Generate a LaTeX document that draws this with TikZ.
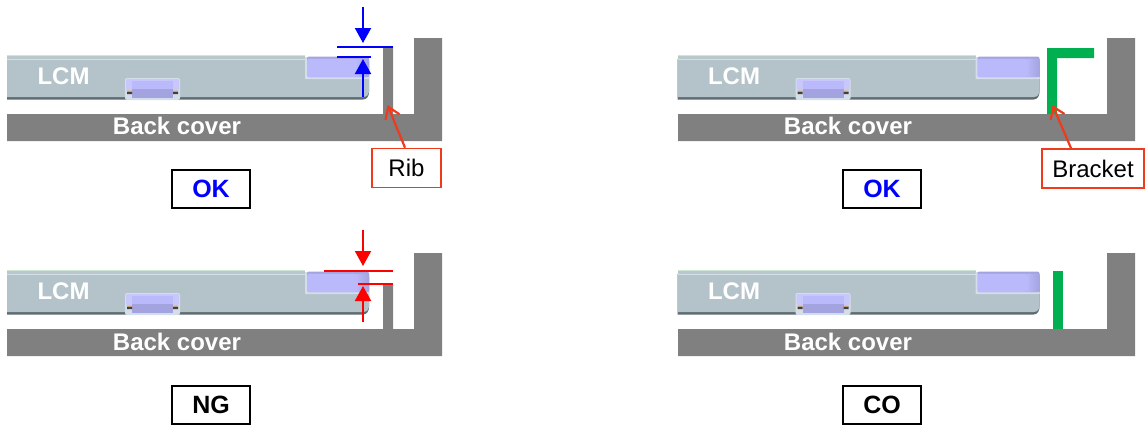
\documentclass[tikz,border=0pt]{standalone}
\usepackage{fontspec}
\setmainfont{Liberation Sans}
\usetikzlibrary{arrows.meta}
\definecolor{coverGray}{HTML}{808080}
\definecolor{lcmBody}{HTML}{B4C3CA}
\definecolor{lcmEdge}{HTML}{5F6B70}
\definecolor{lcmPatch}{HTML}{B9B9FB}
\definecolor{lcmPatchDark}{HTML}{A3A3DF}
\definecolor{lcmRim}{HTML}{D3DEEA}
\definecolor{lcmTop}{HTML}{B9C8C8}
\definecolor{lcmGlow}{HTML}{CFE6D4}
\definecolor{ribGreen}{HTML}{00B050}
\definecolor{calloutRed}{HTML}{F03A1C}
\definecolor{dimBlue}{HTML}{0000FF}
\definecolor{dimRed}{HTML}{FF0000}
\tikzset{
  coverlabel/.style={text=white,font=\bfseries\fontsize{24}{24}\selectfont,inner sep=0pt},
  verdict/.style={draw=black,line width=1.3pt,fill=white,minimum width=78pt,minimum height=38pt,inner sep=0pt,font=\bfseries\fontsize{25}{25}\selectfont},
  callout/.style={draw=calloutRed,line width=1.6pt,fill=white,minimum height=39pt,inner sep=0pt,font=\fontsize{24}{24}\selectfont},
  calloutarrow/.style={draw=calloutRed,line width=2.2pt,-{Straight Barb[length=11pt,width=15pt,line width=2.2pt]}},
  dimline/.style={line width=2pt},
  dimarrow/.style={line width=2pt,-{Triangle[length=15pt,width=16pt]}},
  lcm/.pic={
    \fill[lcmEdge] (0,59) -- (359,59) .. controls (361,59) and (362,60) .. (362,62) -- (362,92) .. controls (362,96) and (360,99.5) .. (356,99.5) -- (0,99.5) -- cycle;
    \fill[lcmBody] (0,59) -- (359,59) .. controls (361,59) and (362,60) .. (362,62) -- (362,92) .. controls (362,94) and (360,97) .. (356,97) -- (0,97) -- cycle;
    \fill[lcmGlow] (0,55) rectangle (298,56.5);
    \fill[lcmTop] (0,56) rectangle (298,59);
    \fill[lcmRim] (0,58.5) rectangle (298,60);
    \fill[lcmRim] (298,57) rectangle (301,79) (298,77) rectangle (362,79);
    \fill[lcmPatchDark,rounded corners=2pt] (300,56.5) rectangle (362,77);
    \shade[left color=lcmPatch,right color=lcmPatch,middle color=lcmPatch,rounded corners=1pt] (300.5,58.5) rectangle (349,77);
    \shade[left color=lcmPatch,right color=lcmPatchDark,rounded corners=1pt] (349,58.5) rectangle (362,77);
    \fill[lcmRim,rounded corners=2pt] (118,78) rectangle (173,100);
    \fill[lcmPatch!80!white,rounded corners=1pt] (119,79) rectangle (172,90);
    \fill[lcmPatch] (125,81) rectangle (166,89);
    \fill[lcmPatchDark] (125,89) rectangle (166,98);
    \fill[black!75] (120,91.5) rectangle (125,94) (166,91.5) rectangle (171,94);
    \fill[orange!50!brown!80!white] (120,90.5) rectangle (125,91.5) (166,90.5) rectangle (171,91.5);
    \node[coverlabel] (label) at (56.5,76) {LCM};
  }
}
\begin{document}
\begin{tikzpicture}[x=1pt,y=-1pt]
\useasboundingbox (0,0) rectangle (1148,424);
% top left
\pic (lcmA) at (7,0) {lcm};
\fill[coverGray] (7,114) -- (383,114) -- (383,47) -- (393,47) -- (393,114) -- (414,114) -- (414,38) -- (442,38) -- (442,141) -- (7,141) -- cycle;
\node[coverlabel] (coverA) at (177,126) {Back cover};
\coordinate (a1) at (337,47); \coordinate (a2) at (393,47);
\coordinate (a3) at (337,57); \coordinate (a4) at (371,57);
\coordinate (a5) at (363,7);  \coordinate (a6) at (363,43);
\coordinate (a7) at (363,97); \coordinate (a8) at (363,59);
\draw[dimline,dimBlue] (a1) -- (a2);
\draw[dimline,dimBlue] (a3) -- (a4);
\draw[dimarrow,dimBlue] (a5) -- (a6);
\draw[dimarrow,dimBlue] (a7) -- (a8);
\node[callout,minimum width=69pt] (rib) at (406.5,168) {Rib};
\coordinate (ribtip) at (387.5,105);
\draw[calloutarrow] ([xshift=-1.5pt]rib.north) -- (ribtip);
\node[verdict,text=dimBlue] (okA) at (211,189) {OK};
% top right
\pic (lcmB) at (677.5,0) {lcm};
\fill[coverGray] (678,114) -- (1107,114) -- (1107,38) -- (1135,38) -- (1135,141) -- (678,141) -- cycle;
\fill[ribGreen] (1047,114) -- (1047,48) -- (1094,48) -- (1094,58) -- (1057,58) -- (1057,114) -- cycle;
\node[coverlabel] (coverB) at (848,126) {Back cover};
\node[callout,minimum width=102pt] (bracket) at (1093,168.5) {Bracket};
\coordinate (brackettip) at (1052.5,105);
\draw[calloutarrow] ([xshift=-22pt]bracket.north) -- (brackettip);
\node[verdict,text=dimBlue] (okB) at (882,189) {OK};
% bottom left
\pic (lcmC) at (7,215) {lcm};
\fill[coverGray] (7,329) -- (383,329) -- (383,285) -- (393,285) -- (393,329) -- (414,329) -- (414,253) -- (442,253) -- (442,356) -- (7,356) -- cycle;
\node[coverlabel] (coverC) at (177,342) {Back cover};
\coordinate (c1) at (324,271); \coordinate (c2) at (393,271);
\coordinate (c3) at (358,284); \coordinate (c4) at (393,284);
\coordinate (c5) at (363,230); \coordinate (c6) at (363,266);
\coordinate (c7) at (363,322); \coordinate (c8) at (363,286);
\draw[dimline,dimRed] (c1) -- (c2);
\draw[dimline,dimRed] (c3) -- (c4);
\draw[dimarrow,dimRed] (c5) -- (c6);
\draw[dimarrow,dimRed] (c7) -- (c8);
\node[verdict] (ng) at (211,405) {NG};
% bottom right
\pic (lcmD) at (677.5,215) {lcm};
\fill[coverGray] (678,329) -- (1107,329) -- (1107,253) -- (1135,253) -- (1135,356) -- (678,356) -- cycle;
\fill[ribGreen] (1053,271) rectangle (1063,329);
\node[coverlabel] (coverD) at (848,342) {Back cover};
\node[verdict] (co) at (882,405) {CO};
\end{tikzpicture}
\end{document}
